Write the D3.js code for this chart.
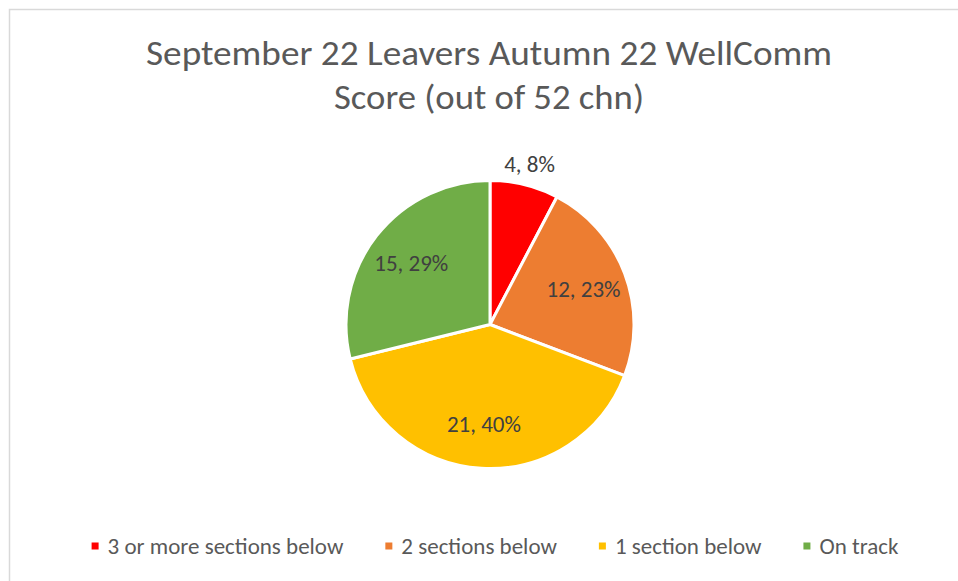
<!DOCTYPE html>
<html>
<head>
<meta charset="utf-8">
<script src="https://cdn.jsdelivr.net/npm/d3@7/dist/d3.min.js"></script>
<style>
  body { margin: 0; background: #fff; }
  svg { display: block; font-family: Carlito, Calibri, Lato, sans-serif; }
</style>
</head>
<body>
<div id="chart"></div>
<script>
// Chart data
const categories = ["3 or more sections below", "2 sections below", "1 section below", "On track"];
const counts = [4, 12, 21, 15];
const percents = [8, 23, 40, 29];
const colors = ["#FF0000", "#ED7D31", "#FFC000", "#70AD47"];
const titleLines = ["September 22 Leavers Autumn 22 WellComm", "Score (out of 52 chn)"];

const width = 958;
const height = 581;

const svg = d3.select("#chart")
              .append("svg")
              .attr("width", width)
              .attr("height", height);

// chart area border
svg.append("rect")
   .attr("x", 9.5)
   .attr("y", 9.5)
   .attr("width", width + 20)
   .attr("height", height + 20)
   .attr("fill", "#fff")
   .attr("stroke", "#d9d9d9")
   .attr("stroke-width", 1.5);

// title
const titleWidths = [686, 310];
svg.append("g")
   .selectAll("text")
   .data(titleLines)
   .enter().append("text")
   .attr("x", 489)
   .attr("y", (d, i) => 65 + i * 44)
   .attr("text-anchor", "middle")
   .attr("font-size", 34)
   .attr("fill", "#595959")
   .attr("textLength", (d, i) => titleWidths[i])
   .attr("lengthAdjust", "spacingAndGlyphs")
   .text(d => d);

// pie
const cx = 490, cy = 324.5, radius = 144;
const data = categories.map((c, i) => ({ name: c, value: counts[i], pct: percents[i], color: colors[i] }));

const pie = d3.pie().value(d => d.value).sort(null);
const arcs = pie(data);

const arc = d3.arc().innerRadius(0).outerRadius(radius);
const labelArc = d3.arc().innerRadius(100).outerRadius(100);
const outsideArc = d3.arc().innerRadius(radius + 21).outerRadius(radius + 21);

const g = svg.append("g").attr("transform", `translate(${cx},${cy})`);

g.selectAll("path")
 .data(arcs)
 .enter().append("path")
 .attr("d", arc)
 .attr("fill", d => d.data.color)
 .attr("stroke", "#fff")
 .attr("stroke-width", 3)
 .attr("stroke-linejoin", "round");

// data labels: small slice goes outside
g.selectAll("text.lbl")
 .data(arcs)
 .enter().append("text")
 .attr("class", "lbl")
 .attr("transform", d => {
     const small = (d.endAngle - d.startAngle) < 0.6;
     const p = small ? outsideArc.centroid(d) : labelArc.centroid(d);
     return `translate(${p[0]},${p[1]})`;
 })
 .attr("dy", "0.35em")
 .attr("text-anchor", "middle")
 .attr("font-size", 23)
 .attr("fill", "#404040")
 .text(d => `${d.data.value}, ${d.data.pct}%`);

// legend
const legendY = 546;
const legendFont = 23;
const legend = svg.append("g");
const items = legend.selectAll("g")
                    .data(data)
                    .enter().append("g");

items.append("rect")
     .attr("width", 7)
     .attr("height", 7)
     .attr("y", legendY - 3.5)
     .attr("fill", d => d.color);

const itemTexts = items.append("text")
     .attr("x", 16)
     .attr("y", legendY)
     .attr("dy", "0.35em")
     .attr("font-size", legendFont)
     .attr("fill", "#595959")
     .text(d => d.name);

// lay out legend items centred
const gap = 42;
const widths = itemTexts.nodes().map(n => 16 + n.getComputedTextLength());
const total = d3.sum(widths) + gap * (widths.length - 1);
let x0 = 495 - total / 2;
items.attr("transform", (d, i) => {
    const x = x0;
    x0 += widths[i] + gap;
    return `translate(${x},0)`;
});
</script>
</body>
</html>
